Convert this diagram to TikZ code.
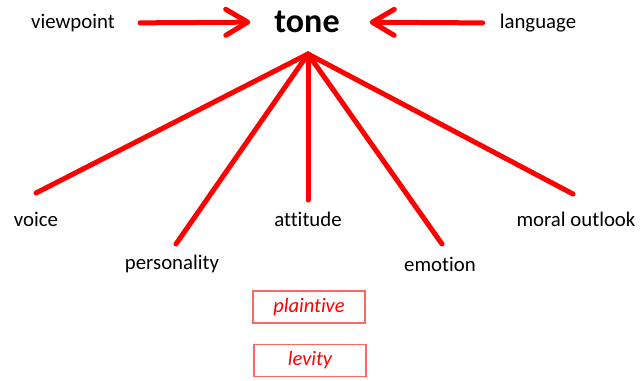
\documentclass[tikz,border=0pt]{standalone}
\usepackage{fontspec}
\setmainfont{Carlito}[Ligatures={NoCommon}]
\usetikzlibrary{arrows.meta}
\tikzset{
  word/.style={inner sep=0pt, font=\fontsize{20.8bp}{24bp}\selectfont},
  spoke/.style={draw=red, line width=5bp, line cap=round},
  pointer/.style={spoke, -{Straight Barb[length=22bp, width=26bp, line cap=round, round]}},
  tonebox/.style={draw=red!60, line width=1.3bp, minimum width=112bp, minimum height=32bp,
    inner sep=0pt, text=red, font=\fontsize{20.5bp}{24bp}\selectfont\itshape}
}
\begin{document}
\begin{tikzpicture}[x=1bp, y=-1bp]
          \useasboundingbox (0,0) rectangle (643,380);
          % top row
          \node[inner sep=0pt, font=\fontsize{34bp}{40bp}\selectfont\bfseries] (tone) at (307,22) {tone};
          \node[word] (viewpoint) at (73,23) {viewpoint};
          \node[word] (language) at (538,23) {language};
          \draw[pointer, shorten <=25bp, shorten >=24bp] (viewpoint.east) -- (tone.west);
          \draw[pointer, shorten <=17bp, shorten >=30bp] (language.west) -- (tone.east);
          % fan
          \coordinate (apex) at (308,54);
          \node[word] (voice) at (36,219) {voice};
          \node[word] (personality) at (172,264) {personality};
          \node[word] (attitude) at (308,219) {attitude};
          \node[word] (emotion) at (440,264) {emotion};
          \node[word] (moral) at (576,219) {moral outlook};
          \coordinate (voice-end) at (36,193);
          \coordinate (personality-end) at (176,244);
          \coordinate (attitude-end) at (308,200);
          \coordinate (emotion-end) at (442,244);
          \coordinate (moral-end) at (573,194);
          \draw[spoke] (apex) -- (voice-end);
          \draw[spoke] (apex) -- (personality-end);
          \draw[spoke] (apex) -- (attitude-end);
          \draw[spoke] (apex) -- (emotion-end);
          \draw[spoke] (apex) -- (moral-end);
          % boxes
          \node[tonebox] (plaintive) at (309,307) {plaintive};
          \node[tonebox] (levity) at (310,360.5) {levity};
        \end{tikzpicture}
\end{document}
